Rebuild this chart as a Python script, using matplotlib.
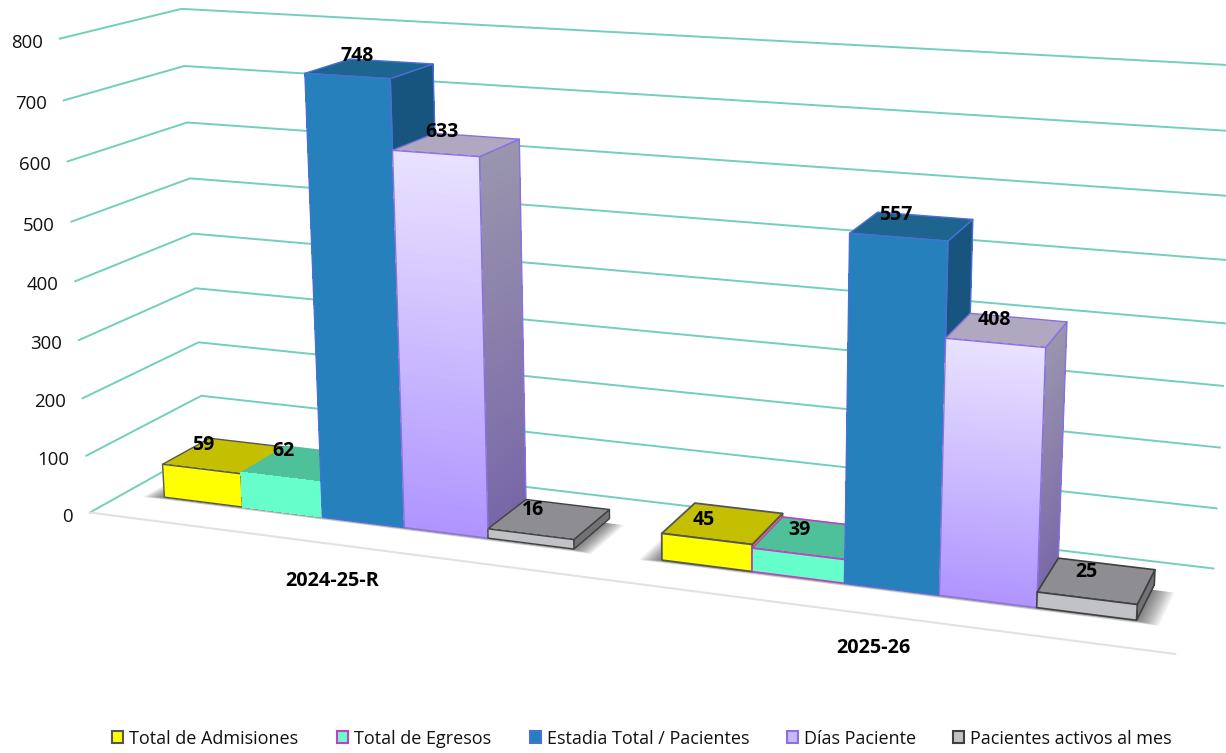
import matplotlib
matplotlib.use("Agg")
import matplotlib.pyplot as plt
import numpy as np
from matplotlib.colors import to_rgb
from matplotlib.patches import Polygon, Rectangle

plt.rcParams["font.family"] = ["Open Sans", "DejaVu Sans"]

# Datos
categories = ["2024-25-R", "2025-26"]
series_names = ["Total de Admisiones", "Total de Egresos", "Estadia Total / Pacientes",
                "Días Paciente", "Pacientes activos al mes"]
admisiones = [59, 45]
egresos = [62, 39]
estadia = [748, 557]
dias = [633, 408]
activos = [16, 25]
y_ticks = [0, 100, 200, 300, 400, 500, 600, 700, 800]

series = [admisiones, egresos, estadia, dias, activos]

# Colores: frente arriba, frente abajo, tapa, lado arriba, lado abajo, borde
styles = [
    ("#FFFF00", "#FFFF00", "#C4BF00", "#C4BF00", "#C4BF00", "#555555"),
    ("#66FFCC", "#66FFCC", "#4EC09A", "#4EC09A", "#4EC09A", "#C040C0"),
    ("#2580BC", "#2580BC", "#1D648F", "#17547E", "#17547E", "#4A70D8"),
    ("#E9E2FF", "#AF94FF", "#AFA8C0", "#9A95AE", "#7766A8", "#8B70E0"),
    ("#C0C2C6", "#C0C2C6", "#8E8D92", "#737377", "#737377", "#404040"),
]
edge_width = [[1.0, 0.0, 1.0, 1.0, 1.0], [1.3, 1.2, 1.0, 1.0, 1.2]]

# Calibracion de la perspectiva: (x, profundidad, valor) -> pixel
calib_world = [
    (0, 0, 0), (0, 0, 100), (0, 0, 200), (0, 0, 300), (0, 0, 400),
    (0, 0, 500), (0, 0, 600), (0, 0, 700), (0, 0, 800),
    (0, 1, 0), (0, 1, 100), (0, 1, 500), (0, 1, 600), (0, 1, 700), (0, 1, 800),
    (1, 1, 0), (1, 1, 100), (1, 1, 200), (1, 1, 300), (1, 1, 800),
    (1, 0, 0),
]
calib_px = [
    (90, 512), (86, 456), (82, 399), (80, 340), (76, 280),
    (72, 221), (67, 162), (63, 100), (60, 39),
    (205, 450), (200, 395), (191, 178), (186, 123), (184, 66), (182, 9),
    (1213, 568), (1217, 508), (1220, 447), (1223, 386), (1240, 66),
    (1175, 655),
]

A, b = [], []
for (wx, wy, wz), (u, v) in zip(calib_world, calib_px):
    wz = wz / 800
    A.append([wx, wy, wz, 1, 0, 0, 0, 0, -u * wx, -u * wy, -u * wz])
    A.append([0, 0, 0, 0, wx, wy, wz, 1, -v * wx, -v * wy, -v * wz])
    b += [u, v]
cam = np.append(np.linalg.lstsq(np.array(A, float), np.array(b, float), rcond=None)[0], 1).reshape(3, 4)


def project(x, y, z):
    p = cam @ np.array([x, y, z / 800, 1.0])
    return p[0] / p[2], p[1] / p[2]


def poly(ax, pts, color="none", edge="none", lw=0, aa=True, alpha=None, z=2):
    ax.add_patch(Polygon([project(*p) for p in pts], closed=True, facecolor=color,
                         edgecolor=edge, linewidth=lw, antialiased=aa, alpha=alpha, zorder=z,
                         joinstyle="round"))


def mix(c1, c2, t):
    return tuple((1 - t) * np.array(to_rgb(c1)) + t * np.array(to_rgb(c2)))


fig = plt.figure(figsize=(12.26, 7.53), dpi=100)
ax = fig.add_axes([0, 0, 1, 1])
ax.set_xlim(0, 1226)
ax.set_ylim(753, 0)
ax.axis("off")

# Rejilla
grid_color = "#72CFBB"
for t in y_ticks:
    pts = [project(0, 0, t), project(0, 1, t), project(1, 1, t)]
    ax.plot([p[0] for p in pts], [p[1] for p in pts], color=grid_color, lw=1.4, zorder=1)
    fx, fy = project(0, 0, t)
    ax.text(fx - 17, fy + 4, str(t), ha="right", va="center", fontsize=13.4, color="#111111")

# Borde frontal del piso
pts = [project(0, 0, 0), project(1, 0, 0)]
ax.plot([p[0] for p in pts], [p[1] for p in pts], color="#E2E2E2", lw=1.5, zorder=1)

y_front = 0.30
y_back = 0.72
n_slots = 6


def bar_x(i, j):
    return (i + (0.5 + j) / n_slots) / len(categories), (i + (1.5 + j) / n_slots) / len(categories)


# Sombras en el piso
for i in range(len(categories)):
    x0, _ = bar_x(i, 0)
    _, x1 = bar_x(i, len(series) - 1)
    for k in range(12):
        d = 0.0016 * (12 - k)
        poly(ax, [(x0 - d, y_front - d * 1.6, 0), (x1 + d, y_front - d * 1.6, 0),
                  (x1 + d, y_back - 0.06, 0), (x0 - d, y_back - 0.06, 0)],
             color="#000000", alpha=0.05, z=1.5)

# Barras, de izquierda a derecha
label_dx = [[-22, -20, -13, -15, -16], [-19, -13, -16, -13, -10]]
label_dy = [[-11, -12, -13, -13, -9], [-3, -8, -11, -10, -9]]
n_strips = 50
for i in range(len(categories)):
    for j, values in enumerate(series):
        val = values[i]
        front_top, front_bot, top_col, side_top, side_bot, edge = styles[j]
        lw = edge_width[i][j]
        x0, x1 = bar_x(i, j)
        # lado
        for k in range(n_strips):
            z0, z1 = val * k / n_strips, val * (k + 1) / n_strips
            poly(ax, [(x1, y_front, z0), (x1, y_back, z0), (x1, y_back, z1), (x1, y_front, z1)],
                 color=mix(side_bot, side_top, (k + 0.5) / n_strips), aa=False)
        poly(ax, [(x1, y_front, 0), (x1, y_back, 0), (x1, y_back, val), (x1, y_front, val)], edge=edge, lw=lw)
        # tapa
        poly(ax, [(x0, y_front, val), (x1, y_front, val), (x1, y_back, val), (x0, y_back, val)],
             color=top_col, edge=edge, lw=lw)
        # frente
        for k in range(n_strips):
            z0, z1 = val * k / n_strips, val * (k + 1) / n_strips
            poly(ax, [(x0, y_front, z0), (x1, y_front, z0), (x1, y_front, z1), (x0, y_front, z1)],
                 color=mix(front_bot, front_top, (k + 0.5) / n_strips), aa=False)
        poly(ax, [(x0, y_front, 0), (x1, y_front, 0), (x1, y_front, val), (x0, y_front, val)], edge=edge, lw=lw)
        # etiqueta
        cx, cy = project((x0 + x1) / 2, (y_front + y_back) / 2, val)
        ax.text(cx + label_dx[i][j], cy + label_dy[i][j], str(val), ha="center", va="center",
                fontsize=14, fontweight="bold", color="black", zorder=5)

ax.text(332, 581, categories[0], ha="center", va="center", fontsize=14.3, fontweight="bold", color="black")
ax.text(873, 648, categories[1], ha="center", va="center", fontsize=14.3, fontweight="bold", color="black")

# Leyenda
swatch_x = [112, 337, 530, 787, 953]
legend_fill = ["#FFFF00", "#66FFCC", "#2580BC", "#C8B8FF", "#C0C2C6"]
for sx, name, fill, st in zip(swatch_x, series_names, legend_fill, styles):
    ax.add_patch(Rectangle((sx, 731), 11, 12, facecolor=fill, edgecolor=st[5], linewidth=1.5, zorder=3))
    ax.text(sx + 17, 739, name, ha="left", va="center", fontsize=13, color="#111111")

fig.savefig("out.png", dpi=100)
